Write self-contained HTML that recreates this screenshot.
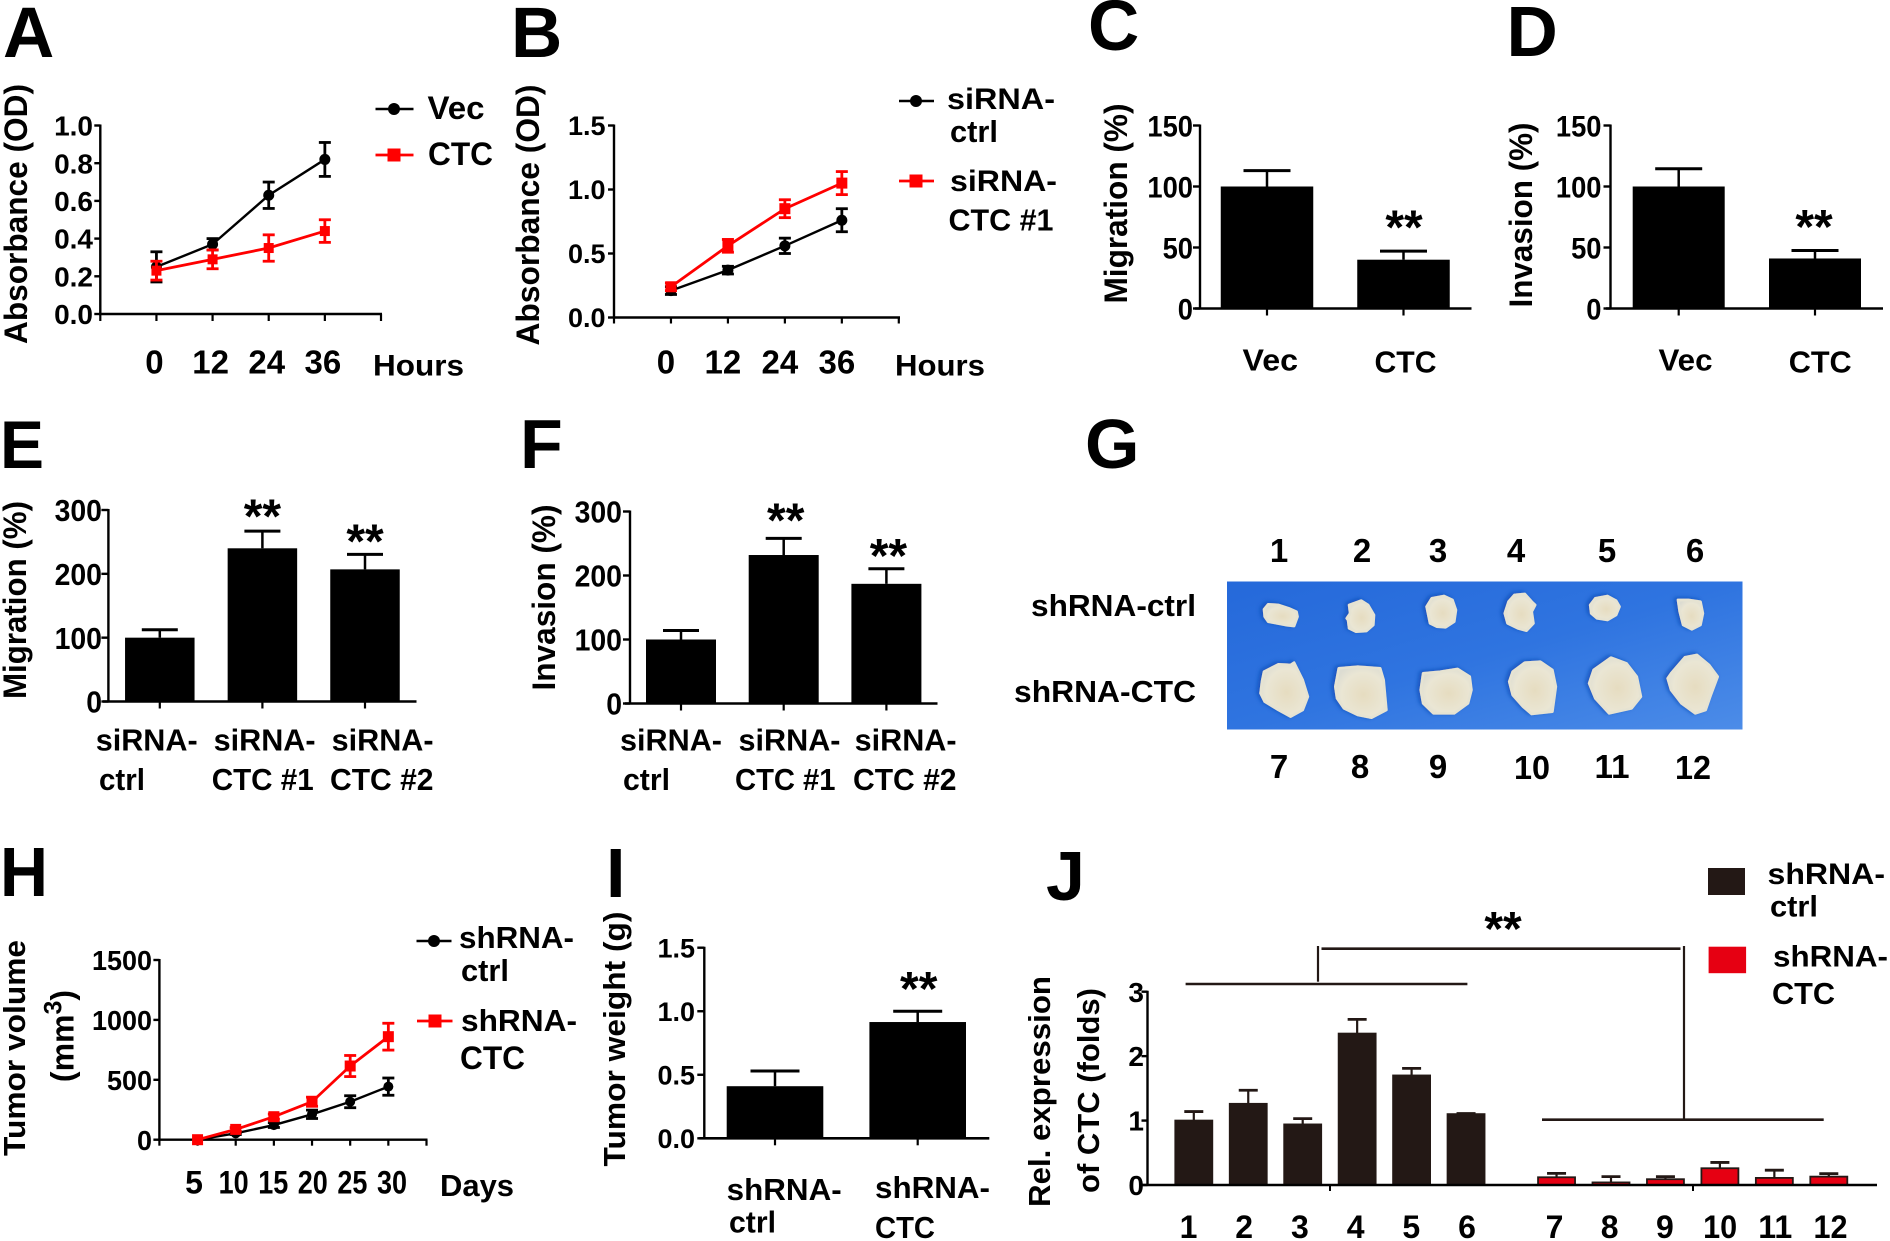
<!DOCTYPE html>
<html lang="en">
<head>
<meta charset="utf-8">
<title>CTC multi-panel figure</title>
<style>
html,body{margin:0;padding:0;background:#fff;width:1890px;height:1241px;overflow:hidden}
svg{display:block}
text{font-family:"Liberation Sans",Arial,sans-serif;font-weight:700;fill:#000}
</style>
</head>
<body>
<svg id="fig" xmlns="http://www.w3.org/2000/svg" width="1890" height="1241" viewBox="0 0 1890 1241">
<defs>
<linearGradient id="blueBg" x1="0" y1="0" x2="1" y2="1">
<stop offset="0" stop-color="#2569da"/><stop offset=".5" stop-color="#2f74e0"/><stop offset="1" stop-color="#4c8ce8"/>
</linearGradient>
<radialGradient id="tumorFill" cx=".55" cy=".55" r=".62">
<stop offset="0" stop-color="#e6dcc0"/><stop offset=".7" stop-color="#eae6d4"/><stop offset="1" stop-color="#dcdcd2"/>
</radialGradient>
<filter id="tumorShadow" x="-30%" y="-30%" width="160%" height="160%">
<feDropShadow dx="-7" dy="-3" stdDeviation="6" flood-color="#0f48b4" flood-opacity=".8"/>
</filter>
</defs>

<g>
<rect x="1227" y="581.5" width="515.5" height="148" fill="url(#blueBg)"/>
<g transform="translate(1220,570) scale(.3444,.3333)" fill="url(#tumorFill)" stroke="#e6e3d2" stroke-width="8" stroke-linejoin="round" filter="url(#tumorShadow)">
<polygon points="128,118 140,103 170,105 200,115 222,125 225,140 215,168 190,165 165,160 140,155 130,140"/>
<polygon points="375,105 410,92 430,105 447,135 445,165 425,183 395,185 375,175 372,150 368,145 378,130"/>
<polygon points="600,110 615,85 650,78 675,90 685,120 680,155 655,172 630,170 610,160 605,135"/>
<polygon points="838,95 855,75 885,72 905,95 915,105 905,125 910,160 890,182 865,175 835,160 827,130"/>
<polygon points="1075,105 1090,85 1125,78 1150,92 1160,110 1150,135 1125,150 1095,145 1078,130"/>
<polygon points="1330,90 1360,90 1395,95 1402,130 1395,165 1370,178 1345,165 1335,125"/>
<polygon points="128,305 170,283 205,285 215,278 240,330 255,380 240,420 205,440 170,420 130,395 118,370 122,335"/>
<polygon points="345,295 400,290 465,295 475,330 483,420 440,443 400,435 360,415 340,385 335,350"/>
<polygon points="590,310 640,305 690,297 725,320 730,360 720,400 680,430 620,430 590,400 583,360"/>
<polygon points="850,305 885,278 930,275 965,300 975,350 965,425 905,432 880,410 850,375 840,335"/>
<polygon points="1085,300 1135,263 1180,280 1210,320 1222,380 1195,415 1130,430 1090,385 1072,340"/>
<polygon points="1310,310 1350,262 1385,255 1420,285 1445,320 1425,375 1410,420 1380,430 1340,400 1310,360 1300,325"/>
</g>
</g>
</svg>

<script>
// ---------- Panel A ----------
const aHours = [0, 12, 24, 36];
const aVec = [0.25, 0.37, 0.63, 0.82];
const aVecErr = [0.08, 0.03, 0.07, 0.09];
const aCtc = [0.23, 0.29, 0.35, 0.44];
const aCtcErr = [0.05, 0.05, 0.07, 0.06];
const aYTicks = ['0.0', '0.2', '0.4', '0.6', '0.8', '1.0'];
// ---------- Panel B ----------
const bHours = [0, 12, 24, 36];
const bCtrl = [0.21, 0.37, 0.56, 0.76];
const bCtrlErr = [0.03, 0.03, 0.06, 0.09];
const bCtc = [0.24, 0.56, 0.85, 1.05];
const bCtcErr = [0.03, 0.05, 0.07, 0.09];
const bYTicks = ['0.0', '0.5', '1.0', '1.5'];
// ---------- Panel C ----------
const cCats = ['Vec', 'CTC'];
const cVals = [100, 40];
const cErrs = [13, 7];
const cYTicks = ['0', '50', '100', '150'];
// ---------- Panel D ----------
const dCats = ['Vec', 'CTC'];
const dVals = [100, 41];
const dErrs = [14.5, 6.5];
const dYTicks = ['0', '50', '100', '150'];
// ---------- Panel E ----------
const eCats = [['siRNA-', 'ctrl'], ['siRNA-', 'CTC #1'], ['siRNA-', 'CTC #2']];
const eVals = [100, 240, 207];
const eErrs = [12.5, 27, 23.5];
const eYTicks = ['0', '100', '200', '300'];
// ---------- Panel F ----------
const fCats = [['siRNA-', 'ctrl'], ['siRNA-', 'CTC #1'], ['siRNA-', 'CTC #2']];
const fVals = [100, 232, 187];
const fErrs = [14, 26, 23.5];
const fYTicks = ['0', '100', '200', '300'];
// ---------- Panel H ----------
const hDays = [5, 10, 15, 20, 25, 30];
const hCtrl = [0, 53, 122, 212, 317, 443];
const hCtrlErr = [0, 10, 20, 35, 50, 72];
const hCtc = [0, 86, 192, 317, 615, 860];
const hCtcErr = [0, 15, 22, 38, 88, 112];
const hYTicks = ['0', '500', '1000', '1500'];
// ---------- Panel I ----------
const iCats = [['shRNA-', 'ctrl'], ['shRNA-', 'CTC']];
const iVals = [0.41, 0.915];
const iErrs = [0.12, 0.085];
const iYTicks = ['0.0', '0.5', '1.0', '1.5'];
// ---------- Panel J ----------
const jCats = ['1', '2', '3', '4', '5', '6', '7', '8', '9', '10', '11', '12'];
const jVals = [1.0, 1.26, 0.94, 2.35, 1.7, 1.1, 0.12, 0.04, 0.09, 0.26, 0.11, 0.13];
const jErrs = [0.14, 0.21, 0.09, 0.22, 0.11, 0.01, 0.06, 0.09, 0.04, 0.09, 0.12, 0.046];
const jYTicks = ['0', '1', '2', '3'];

const NS = 'http://www.w3.org/2000/svg';
const root = document.getElementById('fig');
const BLACK = '#000';
const RED = '#ff0000';

function scale(d0, d1, r0, r1) {
  return function (v) { return r0 + (v - d0) * (r1 - r0) / (d1 - d0); };
}
function group(name) {
  const el = document.createElementNS(NS, 'g');
  
  
  root.appendChild(el);
  return el;
}
function shape(parent, tag, name, attrs) {
  const el = document.createElementNS(NS, tag);
  
  
  for (const k in attrs) el.setAttribute(k, attrs[k]);
  parent.appendChild(el);
  return el;
}
function line(parent, name, x1, y1, x2, y2, color, width) {
  return shape(parent, 'line', name, { x1: x1, y1: y1, x2: x2, y2: y2, stroke: color, 'stroke-width': width });
}
// opts: anchor, len (forced text length), rot (true = rotated -90)
function label(parent, name, str, x, y, size, opts) {
  opts = opts || {};
  const el = document.createElementNS(NS, 'text');
  
  
  el.setAttribute('x', x);
  el.setAttribute('y', y);
  el.setAttribute('font-size', size);
  el.setAttribute('text-anchor', opts.anchor || 'start');
  if (opts.len) {
    el.setAttribute('textLength', opts.len);
    el.setAttribute('lengthAdjust', 'spacingAndGlyphs');
  }
  if (opts.rot) el.setAttribute('transform', 'rotate(-90 ' + x + ' ' + y + ')');
  el.textContent = str;
  parent.appendChild(el);
  return el;
}
function yAxis(g, X, yS, tickVals, tickLabels, yEnd, tickLen, size, labelRight, charW) {
  line(g, 'y-axis', X, yS(tickVals[tickVals.length - 1]) - 1, X, yEnd + 1, BLACK, 2.4);
  tickVals.forEach(function (v, i) {
    line(g, 'y-tick', X - tickLen, yS(v), X, yS(v), BLACK, 2.4);
    label(g, 'y-tick-label', tickLabels[i], labelRight, yS(v) + size * 0.36, size, { anchor: 'end', len: charW ? tickLabels[i].length * charW : 0 });
  });
}
function marker(g, name, kind, x, y, color, size) {
  if (kind === 'circle') {
    shape(g, 'circle', name, { cx: x, cy: y, r: size / 2, fill: color });
  } else {
    shape(g, 'rect', name, { x: x - size / 2, y: y - size / 2, width: size, height: size, fill: color });
  }
}
function series(g, name, xs, vals, errs, xS, yS, color, kind, mSize, cap, lw) {
  const pts = xs.map(function (x, i) { return xS(x) + ',' + yS(vals[i]); }).join(' ');
  shape(g, 'polyline', name + '-line', { points: pts, fill: 'none', stroke: color, 'stroke-width': lw });
  xs.forEach(function (x, i) {
    const px = xS(x);
    if (errs[i] > 0) {
      const hi = yS(vals[i] + errs[i]);
      const lo = yS(vals[i] - errs[i]);
      line(g, name + '-error-bar', px, hi, px, lo, color, 2.8);
      line(g, name + '-error-cap', px - cap, hi, px + cap, hi, color, 2.8);
      line(g, name + '-error-cap', px - cap, lo, px + cap, lo, color, 2.8);
    }
    marker(g, name + '-point', kind, px, yS(vals[i]), color, mSize);
  });
}
function xTicks(g, vals, xS, axisY, tickLen) {
  vals.forEach(function (v) {
    line(g, 'x-tick', xS(v), axisY, xS(v), axisY + tickLen, BLACK, 2.2);
  });
}
function bars(g, cfg) {
  const yS = scale(0, cfg.yMax, cfg.y0, cfg.yTop);
  const center = function (i) { return cfg.c0 + cfg.step * i; };
  cfg.vals.forEach(function (v, i) {
    const c = center(i);
    const top = yS(v);
    const errTop = yS(v + cfg.errs[i]);
    line(g, 'error-bar', c, errTop, c, top, '#000', 2.5);
    line(g, 'error-cap', c - cfg.cap, errTop, c + cfg.cap, errTop, '#000', 3);
    shape(g, 'rect', 'bar-' + i, { x: c - cfg.w / 2, y: top, width: cfg.w, height: cfg.y0 - top, fill: '#000' });
    line(g, 'x-tick', c, cfg.y0, c, cfg.y0 + 7, BLACK, 2.2);
    if (cfg.stars && cfg.stars[i] !== null) {
      label(g, 'significance-stars', '**', c + cfg.starDx, errTop + cfg.stars[i], 48, { anchor: 'middle' });
    }
  });
  line(g, 'x-axis', cfg.xStart, cfg.y0, cfg.xEnd, cfg.y0, BLACK, 2.6);
  yAxis(g, cfg.axisX, yS, cfg.ticks.map(Number), cfg.ticks, cfg.y0, 7, cfg.tickSize || 27, cfg.labelRight, cfg.charW);
}

// Panel letters
const letters = group('panel-letters');
label(letters, 'panel-letter-a', 'A', 3, 57, 71);
label(letters, 'panel-letter-b', 'B', 511, 57, 71);
label(letters, 'panel-letter-c', 'C', 1088, 50, 71);
label(letters, 'panel-letter-d', 'D', 1506.5, 56, 71);
label(letters, 'panel-letter-e', 'E', 0, 468, 68, { len: 44 });
label(letters, 'panel-letter-f', 'F', 520, 468, 70);
label(letters, 'panel-letter-g', 'G', 1085, 468, 70);
label(letters, 'panel-letter-h', 'H', 0, 896, 70, { len: 48 });
label(letters, 'panel-letter-i', 'I', 606, 897, 70);
label(letters, 'panel-letter-j', 'J', 1046, 900, 70);

// ===== Panel A =====
(function () {
  const g = group('panel-a-line-chart');
  const xS = scale(-12, 48, 100.3, 381);
  const yS = scale(0, 1, 314, 125.5);
  line(g, 'x-axis', 99, 314, 382, 314, BLACK, 2.6);
  xTicks(g, [-12].concat(aHours, [48]), xS, 314, 7);
  yAxis(g, xS(-12), yS, aYTicks.map(Number), aYTicks, 314, 6, 28, 93);
  aHours.forEach(function (h) {
    label(g, 'x-tick-label', String(h), xS(h) - 2, 373.5, 33, { anchor: 'middle' });
  });
  label(g, 'x-axis-title', 'Hours', 373, 375.5, 30, { len: 91 });
  label(g, 'y-axis-title', 'Absorbance (OD)', 27, 214, 32, { anchor: 'middle', rot: true, len: 260 });
  series(g, 'vec-series', aHours, aVec, aVecErr, xS, yS, BLACK, 'circle', 11, 6, 2.4);
  series(g, 'ctc-series', aHours, aCtc, aCtcErr, xS, yS, RED, 'square', 10, 6, 2.8);
  line(g, 'legend-vec-line', 375.5, 109, 413.5, 109, BLACK, 2.6);
  marker(g, 'legend-vec-marker', 'circle', 394, 109, BLACK, 12);
  label(g, 'legend-vec-label', 'Vec', 427.5, 119, 32, { len: 57 });
  line(g, 'legend-ctc-line', 375.5, 155, 413.5, 155, RED, 2.8);
  marker(g, 'legend-ctc-marker', 'square', 394, 155, RED, 13);
  label(g, 'legend-ctc-label', 'CTC', 428, 165, 32, { len: 65 });
})();

// ===== Panel B =====
(function () {
  const g = group('panel-b-line-chart');
  const xS = scale(-12, 48, 614, 898.8);
  const yS = scale(0, 1.5, 317.5, 125.5);
  line(g, 'x-axis', 613, 317.5, 900, 317.5, BLACK, 2.6);
  xTicks(g, [-12].concat(bHours, [48]), xS, 317.5, 6);
  yAxis(g, xS(-12), yS, bYTicks.map(Number), bYTicks, 317.5, 6, 27, 605.5);
  bHours.forEach(function (h) {
    label(g, 'x-tick-label', String(h), xS(h) - 5, 373.5, 33, { anchor: 'middle' });
  });
  label(g, 'x-axis-title', 'Hours', 895, 375.5, 30, { len: 90 });
  label(g, 'y-axis-title', 'Absorbance (OD)', 539, 215, 32, { anchor: 'middle', rot: true, len: 261 });
  series(g, 'sirna-ctrl-series', bHours, bCtrl, bCtrlErr, xS, yS, BLACK, 'circle', 11, 6, 2.4);
  series(g, 'sirna-ctc-1-series', bHours, bCtc, bCtcErr, xS, yS, RED, 'square', 11, 6, 2.8);
  line(g, 'legend-ctrl-line', 899, 101, 934, 101, BLACK, 2.6);
  marker(g, 'legend-ctrl-marker', 'circle', 916, 101, BLACK, 12);
  label(g, 'legend-ctrl-label-1', 'siRNA-', 947, 109, 30, { len: 108 });
  label(g, 'legend-ctrl-label-2', 'ctrl', 950, 142, 31, { len: 48 });
  line(g, 'legend-ctc-line', 899, 181, 934, 181, RED, 2.8);
  marker(g, 'legend-ctc-marker', 'square', 916, 181, RED, 13);
  label(g, 'legend-ctc-label-1', 'siRNA-', 950, 191, 30, { len: 107 });
  label(g, 'legend-ctc-label-2', 'CTC #1', 948.5, 230.5, 31, { len: 105 });
})();

// ===== Panel C =====
(function () {
  const g = group('panel-c-bar-chart');
  bars(g, { vals: cVals, errs: cErrs, ticks: cYTicks, yMax: 150, y0: 308.5, yTop: 125.5, axisX: 1200, xStart: 1195, xEnd: 1471.5,
    c0: 1267, step: 136.5, w: 92.5, cap: 23.5, labelRight: 1193, charW: 15.2, tickSize: 30, stars: [null, -7.8], starDx: 0.5 });
  label(g, 'x-label-vec', cCats[0], 1242.5, 370.5, 31, { len: 55.5 });
  label(g, 'x-label-ctc', cCats[1], 1374.5, 372.5, 31, { len: 62 });
  label(g, 'y-axis-title', 'Migration (%)', 1127, 203.5, 32, { anchor: 'middle', rot: true, len: 200 });
})();

// ===== Panel D =====
(function () {
  const g = group('panel-d-bar-chart');
  bars(g, { vals: dVals, errs: dErrs, ticks: dYTicks, yMax: 150, y0: 308.5, yTop: 125.5, axisX: 1610.5, xStart: 1606, xEnd: 1883,
    c0: 1678.7, step: 136.3, w: 92, cap: 23.5, labelRight: 1601.5, charW: 15.2, tickSize: 30, stars: [null, -7.8], starDx: -1 });
  label(g, 'x-label-vec', dCats[0], 1658.5, 370.5, 31, { len: 54 });
  label(g, 'x-label-ctc', dCats[1], 1788.7, 372.5, 31, { len: 63 });
  label(g, 'y-axis-title', 'Invasion (%)', 1532, 215, 32, { anchor: 'middle', rot: true, len: 185 });
})();

// ===== Panel E =====
(function () {
  const g = group('panel-e-bar-chart');
  bars(g, { vals: eVals, errs: eErrs, ticks: eYTicks, yMax: 300, y0: 701.5, yTop: 510, axisX: 108.4, xStart: 103, xEnd: 416.5,
    c0: 159.8, step: 102.6, w: 69.5, cap: 18, labelRight: 102, charW: 15.8, tickSize: 31, stars: [null, 1.4, 3], starDx: 0 });
  label(g, 'x-label-ctrl-1', eCats[0][0], 95.7, 750.5, 31, { len: 102 });
  label(g, 'x-label-ctrl-2', eCats[0][1], 99, 790, 31, { len: 46 });
  label(g, 'x-label-ctc1-1', eCats[1][0], 213.6, 750.5, 31, { len: 102 });
  label(g, 'x-label-ctc1-2', eCats[1][1], 211.7, 790, 31, { len: 102 });
  label(g, 'x-label-ctc2-1', eCats[2][0], 331.6, 750.5, 31, { len: 102 });
  label(g, 'x-label-ctc2-2', eCats[2][1], 330, 790, 31, { len: 103.5 });
  label(g, 'y-axis-title', 'Migration (%)', 26, 600, 32, { anchor: 'middle', rot: true, len: 198 });
})();

// ===== Panel F =====
(function () {
  const g = group('panel-f-bar-chart');
  bars(g, { vals: fVals, errs: fErrs, ticks: fYTicks, yMax: 300, y0: 703.5, yTop: 511.5, axisX: 630, xStart: 625, xEnd: 937.5,
    c0: 681, step: 102.7, w: 70, cap: 18, labelRight: 622, charW: 15.8, tickSize: 31, stars: [null, -2, 3.4], starDx: 2 });
  label(g, 'x-label-ctrl-1', fCats[0][0], 620, 750.5, 31, { len: 102 });
  label(g, 'x-label-ctrl-2', fCats[0][1], 623, 790, 31, { len: 47 });
  label(g, 'x-label-ctc1-1', fCats[1][0], 738.5, 750.5, 31, { len: 102 });
  label(g, 'x-label-ctc1-2', fCats[1][1], 735, 790, 31, { len: 100.5 });
  label(g, 'x-label-ctc2-1', fCats[2][0], 854.6, 750.5, 31, { len: 102 });
  label(g, 'x-label-ctc2-2', fCats[2][1], 853, 790, 31, { len: 103.5 });
  label(g, 'y-axis-title', 'Invasion (%)', 555, 597.5, 32, { anchor: 'middle', rot: true, len: 186 });
})();

// ===== Panel G labels =====
(function () {
  const g = group('panel-g-labels');
  label(g, 'tumor-number-1', '1', 1279, 562, 33, { anchor: 'middle' });
  label(g, 'tumor-number-2', '2', 1362, 562, 33, { anchor: 'middle' });
  label(g, 'tumor-number-3', '3', 1438, 562, 33, { anchor: 'middle' });
  label(g, 'tumor-number-4', '4', 1516, 562, 33, { anchor: 'middle' });
  label(g, 'tumor-number-5', '5', 1607, 562, 33, { anchor: 'middle' });
  label(g, 'tumor-number-6', '6', 1695, 562, 33, { anchor: 'middle' });
  label(g, 'tumor-number-7', '7', 1279, 778, 33, { anchor: 'middle' });
  label(g, 'tumor-number-8', '8', 1360, 778, 33, { anchor: 'middle' });
  label(g, 'tumor-number-9', '9', 1438, 778, 33, { anchor: 'middle' });
  label(g, 'tumor-number-10', '10', 1532, 779, 33, { anchor: 'middle', len: 36 });
  label(g, 'tumor-number-11', '11', 1612, 778, 33, { anchor: 'middle', len: 35 });
  label(g, 'tumor-number-12', '12', 1693, 779, 33, { anchor: 'middle', len: 36 });
  label(g, 'row-label-shrna-ctrl', 'shRNA-ctrl', 1031, 616, 31, { len: 165 });
  label(g, 'row-label-shrna-ctc', 'shRNA-CTC', 1014, 702, 31, { len: 182 });
})();

// ===== Panel H =====
(function () {
  const g = group('panel-h-line-chart');
  const xS = scale(0, 35, 159.4, 426.5);
  const yS = scale(0, 1500, 1139.7, 960);
  const xLabel = function (i) { return 194 + 39.6 * i; };
  line(g, 'x-axis', 158, 1139.7, 427.5, 1139.7, BLACK, 2.4);
  xTicks(g, [0].concat(hDays, [35]), xS, 1139.7, 6);
  yAxis(g, xS(0), yS, hYTicks.map(Number), hYTicks, 1139.7, 6, 28, 152, 15);
  hDays.forEach(function (d, i) {
    const s = String(d);
    label(g, 'x-tick-label', s, xLabel(i), 1193.5, 32, { anchor: 'middle', len: s.length > 1 ? 30 : 0 });
  });
  label(g, 'x-axis-title', 'Days', 440, 1196, 31, { len: 74 });
  label(g, 'y-axis-title-line-1', 'Tumor volume', 25, 1048, 31, { anchor: 'middle', rot: true, len: 216 });
  const t = label(g, 'y-axis-title-line-2', '', 73.5, 1036, 32, { anchor: 'middle', rot: true });
  const a = document.createElementNS(NS, 'tspan'); a.textContent = '(mm'; t.appendChild(a);
  const b = document.createElementNS(NS, 'tspan'); b.textContent = '3'; b.setAttribute('dy', '-12'); b.setAttribute('font-size', '25'); t.appendChild(b);
  const c = document.createElementNS(NS, 'tspan'); c.textContent = ')'; c.setAttribute('dy', '12'); t.appendChild(c);
  series(g, 'shrna-ctrl-series', hDays, hCtrl, hCtrlErr, xS, yS, BLACK, 'circle', 10, 6, 2.4);
  series(g, 'shrna-ctc-series', hDays, hCtc, hCtcErr, xS, yS, RED, 'square', 11, 6, 2.8);
  line(g, 'legend-ctrl-line', 416.5, 941, 451.5, 941, BLACK, 2.6);
  marker(g, 'legend-ctrl-marker', 'circle', 434, 941, BLACK, 12);
  label(g, 'legend-ctrl-label-1', 'shRNA-', 459, 948, 31, { len: 115 });
  label(g, 'legend-ctrl-label-2', 'ctrl', 461, 981, 31, { len: 48 });
  line(g, 'legend-ctc-line', 417, 1021, 452.5, 1021, RED, 2.8);
  marker(g, 'legend-ctc-marker', 'square', 435, 1021, RED, 13);
  label(g, 'legend-ctc-label-1', 'shRNA-', 461, 1031, 31, { len: 116 });
  label(g, 'legend-ctc-label-2', 'CTC', 460, 1069, 32, { len: 65 });
})();

// ===== Panel I =====
(function () {
  const g = group('panel-i-bar-chart');
  bars(g, { vals: iVals, errs: iErrs, ticks: iYTicks, yMax: 1.5, y0: 1138.3, yTop: 947.7, axisX: 704.3, xStart: 699.3, xEnd: 989.3,
    c0: 775, step: 142.7, w: 96.6, cap: 24.5, labelRight: 695, stars: [null, -6], starDx: 1 });
  label(g, 'x-label-ctrl-1', iCats[0][0], 726.7, 1200, 31, { len: 115 });
  label(g, 'x-label-ctrl-2', iCats[0][1], 729, 1232.7, 31, { len: 47 });
  label(g, 'x-label-ctc-1', iCats[1][0], 875, 1198, 31, { len: 115 });
  label(g, 'x-label-ctc-2', iCats[1][1], 875, 1238, 31, { len: 60 });
  label(g, 'y-axis-title', 'Tumor weight (g)', 625, 1039, 31, { anchor: 'middle', rot: true, len: 255 });
})();

// ===== Panel J =====
(function () {
  const g = group('panel-j-bar-chart');
  const yS = scale(0, 3, 1185, 991.7);
  const x = function (i) { return 1193.8 + 54.45 * i + (i >= 6 ? 36.05 : 0); };
  const xLabel = function (i) { return i < 6 ? 1188.5 + 55.7 * i : 1554.5 + 55.2 * (i - 6); };
  jVals.forEach(function (v, i) {
    const c = x(i);
    const fill = i < 6 ? '#231815' : '#e60012';
    const errTop = yS(v + jErrs[i]);
    line(g, 'error-bar', c, errTop, c, yS(v), '#231815', 2.2);
    line(g, 'error-cap', c - 9.5, errTop, c + 9.5, errTop, '#231815', 2.8);
    shape(g, 'rect', 'bar-' + jCats[i], { x: c - 18.5, y: yS(v), width: 37, height: 1185 - yS(v), fill: fill, stroke: '#231815', 'stroke-width': 1.8 });
    label(g, 'x-label', jCats[i], xLabel(i), 1238, 32, { anchor: 'middle', len: jCats[i].length > 1 ? 34 : 0 });
  });
  line(g, 'x-axis', 1142, 1185, 1877, 1185, BLACK, 2.4);
  line(g, 'x-tick', 1330, 1185, 1330, 1191, BLACK, 2);
  line(g, 'x-tick', 1693, 1185, 1693, 1191, BLACK, 2);
  yAxis(g, 1147.5, yS, jYTicks.map(Number), jYTicks, 1185, 6, 28, 1144);
  label(g, 'y-axis-title-line-1', 'Rel. expression', 1050, 1091.5, 31, { anchor: 'middle', rot: true, len: 231 });
  label(g, 'y-axis-title-line-2', 'of CTC (folds)', 1099, 1090.5, 31, { anchor: 'middle', rot: true, len: 205 });
  line(g, 'bracket-top', 1321.5, 948.7, 1680.5, 948.7, '#231815', 2.6);
  line(g, 'bracket-left-drop', 1318, 946, 1318, 981.7, '#231815', 2.2);
  line(g, 'bracket-right-drop', 1684, 946, 1684, 1119.5, '#231815', 2.2);
  line(g, 'bracket-group-1', 1185.6, 984, 1467.4, 984, '#231815', 2.6);
  line(g, 'bracket-group-2', 1542, 1119.7, 1823.7, 1119.7, '#231815', 2.6);
  label(g, 'significance-stars', '**', 1503, 945, 48, { anchor: 'middle' });
  shape(g, 'rect', 'legend-ctrl-swatch', { x: 1708, y: 868, width: 37, height: 27, fill: '#231815' });
  label(g, 'legend-ctrl-label-1', 'shRNA-', 1767.5, 884, 30, { len: 117.5 });
  label(g, 'legend-ctrl-label-2', 'ctrl', 1770, 916.5, 30, { len: 48 });
  shape(g, 'rect', 'legend-ctc-swatch', { x: 1708.6, y: 946.7, width: 37.5, height: 26.5, fill: '#e60012' });
  label(g, 'legend-ctc-label-1', 'shRNA-', 1773, 966.5, 30, { len: 115 });
  label(g, 'legend-ctc-label-2', 'CTC', 1772, 1004, 31, { len: 63 });
})();
</script>
</body>
</html>
